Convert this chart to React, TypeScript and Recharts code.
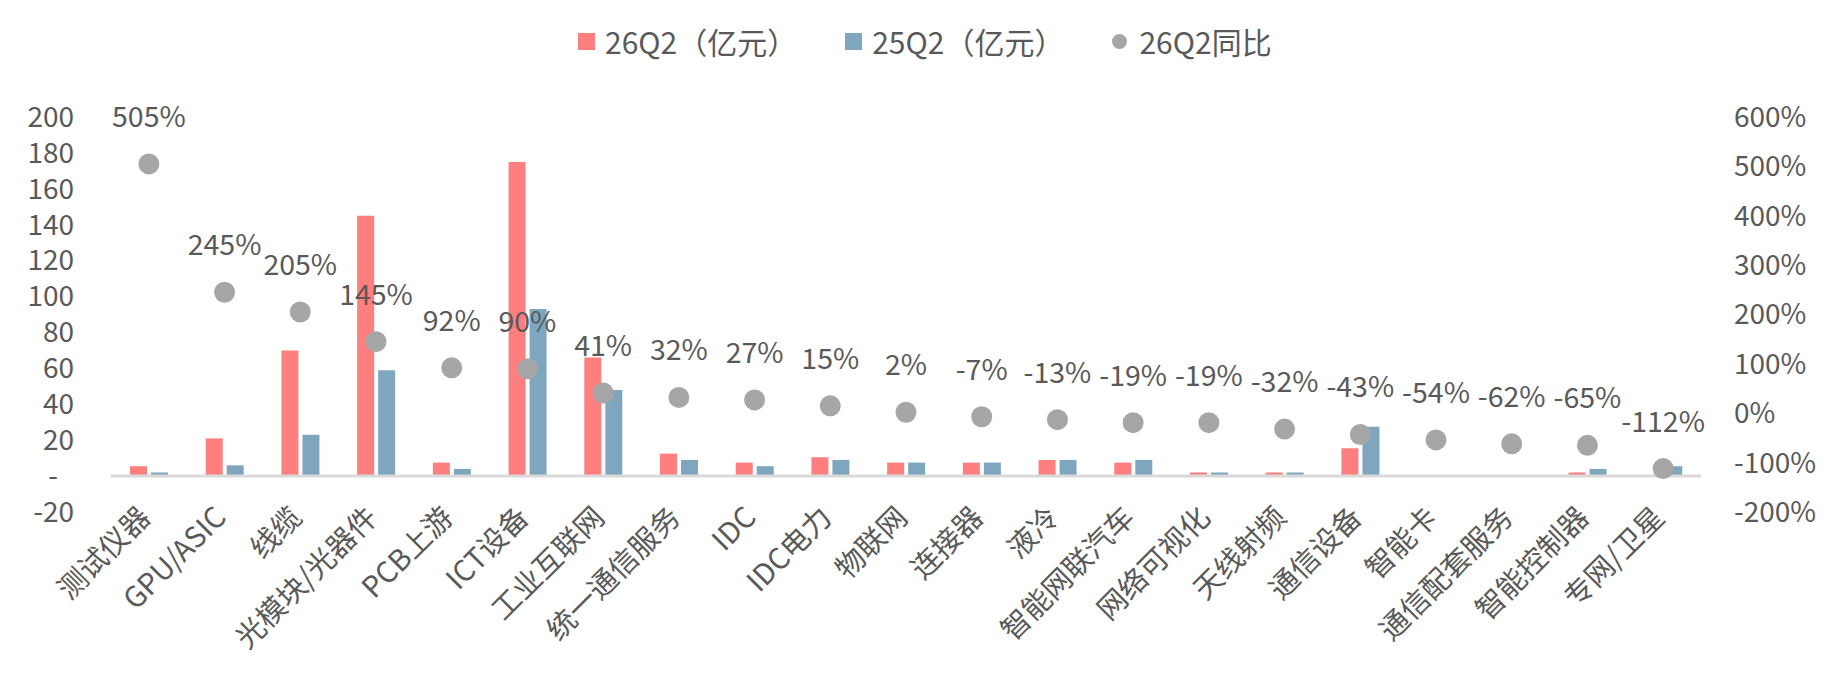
import React from 'react';
import {
  Bar,
  ComposedChart,
  LabelList,
  Line,
  ReferenceLine,
  XAxis,
  YAxis,
} from 'recharts';

const categories = [
  '测试仪器',
  'GPU/ASIC',
  '线缆',
  '光模块/光器件',
  'PCB上游',
  'ICT设备',
  '工业互联网',
  '统一通信服务',
  'IDC',
  'IDC电力',
  '物联网',
  '连接器',
  '液冷',
  '智能网联汽车',
  '网络可视化',
  '天线射频',
  '通信设备',
  '智能卡',
  '通信配套服务',
  '智能控制器',
  '专网/卫星',
];

// 亿元
const q26 = [5.5, 21, 70, 145, 7.5, 175, 66, 12.5, 7.5, 10.5, 7.5, 7.5, 9, 7.5, 2, 2, 15.5, 0, 0, 2, 0];
const q25 = [2, 6, 23, 59, 4, 93, 48, 9, 5.5, 9, 7.5, 7.5, 9, 9, 2, 2, 27.5, 0, 0, 4, 5.5];
// 同比 %
const yoy = [505, 245, 205, 145, 92, 90, 41, 32, 27, 15, 2, -7, -13, -19, -19, -32, -43, -54, -62, -65, -112];

const leftTicks = [-20, 0, 20, 40, 60, 80, 100, 120, 140, 160, 180, 200];
const rightTicks = [-200, -100, 0, 100, 200, 300, 400, 500, 600];

const FONT = "'Noto Sans CJK SC', 'Noto Sans', sans-serif";
const TEXT = '#595959';
const PINK = '#FF7F7F';
const BLUE = '#7FA6BF';
const GREY = '#A6A6A6';

const data = categories.map((name, i) => ({
  name,
  q26: q26[i],
  q25: q25[i],
  yoy: yoy[i],
}));

const CategoryTick = ({ x, y, payload }: any) => (
  <text
    x={x - 4}
    y={y}
    dy='0.35em'
    textAnchor='end'
    fill={TEXT}
    fontSize={29}
    fontFamily={FONT}
    transform={`rotate(-45 ${x - 4} ${y})`}
  >
    {payload.value}
  </text>
);

const LeftTick = ({ x, y, payload }: any) => (
  <text
    x={payload.value === 0 ? x - 16 : x}
    y={y}
    dy='0.35em'
    textAnchor='end'
    fill={TEXT}
    fontSize={28}
    fontFamily={FONT}
  >
    {payload.value === 0 ? '-' : payload.value}
  </text>
);

const YoyLabel = ({ x, y, value }: any) => (
  <text
    x={x}
    y={y - 37}
    textAnchor='middle'
    fill={TEXT}
    fontSize={28.5}
    fontFamily={FONT}
  >
    {`${value}%`}
  </text>
);

const legendItems = [
  { label: '26Q2（亿元）', color: PINK, round: false },
  { label: '25Q2（亿元）', color: BLUE, round: false },
  { label: '26Q2同比', color: GREY, round: true },
];

export default function App() {
  return (
    <div
      style={{
        position: 'fixed',
        left: 0,
        top: 0,
        width: 1832,
        height: 680,
        background: '#fff',
        fontFamily: FONT,
      }}
    >
      <div
        style={{
          position: 'absolute',
          left: 578,
          top: 21,
          display: 'flex',
          alignItems: 'center',
          gap: 48,
          color: TEXT,
          fontSize: 30,
          lineHeight: '40px',
        }}
      >
        {legendItems.map((it) => (
          <div
            key={it.label}
            style={{ display: 'flex', alignItems: 'center', gap: it.round ? 12 : 10 }}
          >
            <span
              style={{
                display: 'inline-block',
                width: it.round ? 15 : 17,
                height: it.round ? 15 : 17,
                borderRadius: it.round ? '50%' : 0,
                background: it.color,
              }}
            />
            <span>{it.label}</span>
          </div>
        ))}
      </div>

      <ComposedChart
        width={1832}
        height={680}
        data={data}
        margin={{ top: 117, right: 0, bottom: 0, left: 0 }}
        barSize={17}
        barGap={4}
      >
        <XAxis
          dataKey='name'
          height={168}
          interval={0}
          axisLine={false}
          tickLine={false}
          tickSize={0}
          tickMargin={0}
          tick={<CategoryTick />}
        />
        <YAxis
          yAxisId='left'
          width={111}
          domain={[-20, 200]}
          ticks={leftTicks}
          axisLine={false}
          tickLine={false}
          tickSize={0}
          tickMargin={37}
          tick={<LeftTick />}
        />
        <YAxis
          yAxisId='right'
          orientation='right'
          width={131}
          domain={[-200, 600]}
          ticks={rightTicks}
          axisLine={false}
          tickLine={false}
          tickSize={0}
          tickMargin={33}
          tickFormatter={(v) => `${v}%`}
          tick={{ fill: TEXT, fontSize: 28, fontFamily: FONT }}
        />
        <ReferenceLine yAxisId='left' y={0} stroke='#D9D9D9' strokeWidth={3} />
        <Bar yAxisId='left' dataKey='q26' name='26Q2（亿元）' fill={PINK} isAnimationActive={false} />
        <Bar yAxisId='left' dataKey='q25' name='25Q2（亿元）' fill={BLUE} isAnimationActive={false} />
        <Line
          yAxisId='right'
          dataKey='yoy'
          name='26Q2同比'
          stroke='none'
          strokeWidth={0}
          dot={{ r: 10.5, fill: GREY, stroke: 'none' }}
          activeDot={false}
          isAnimationActive={false}
        >
          <LabelList dataKey='yoy' content={<YoyLabel />} />
        </Line>
      </ComposedChart>
    </div>
  );
}
